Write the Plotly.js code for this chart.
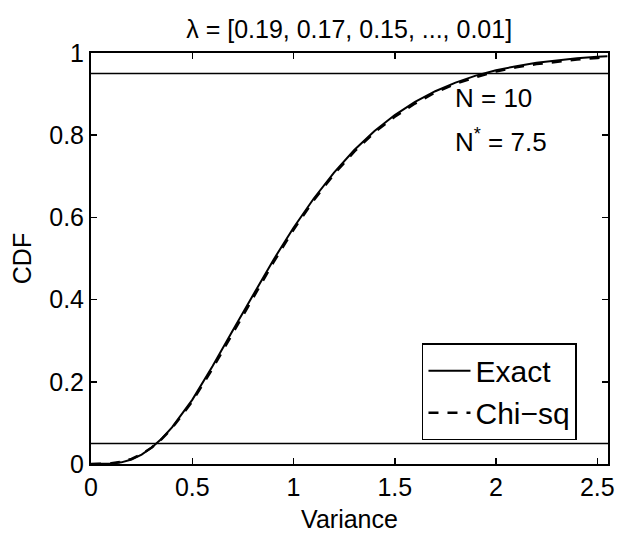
<!DOCTYPE html>
<html>
<head>
<meta charset="utf-8">
<script src="https://cdn.plot.ly/plotly-3.0.1.min.js"></script>
<style>html,body{margin:0;padding:0;background:#fff;}#chart{width:618px;height:535px;}</style>
</head>
<body>
<div id="chart"></div>
<script>
// Data
const variance = [0, 0.05, 0.1, 0.15, 0.2, 0.25, 0.3, 0.35, 0.4, 0.5, 0.6, 0.7, 0.8, 0.9, 1.0, 1.1, 1.2, 1.3, 1.4, 1.5, 1.6, 1.7, 1.8, 1.9, 2.0, 2.1, 2.2, 2.3, 2.4, 2.5, 2.55];
const cdfExact = [0, 0.0001, 0.001, 0.004, 0.011, 0.023, 0.040, 0.062, 0.089, 0.156, 0.238, 0.325, 0.412, 0.496, 0.575, 0.646, 0.709, 0.764, 0.810, 0.849, 0.881, 0.907, 0.928, 0.945, 0.958, 0.968, 0.976, 0.982, 0.987, 0.991, 0.992];
const cdfChiSq = [0, 0.0002, 0.0016, 0.0054, 0.0125, 0.024, 0.040, 0.061, 0.087, 0.152, 0.232, 0.318, 0.405, 0.490, 0.570, 0.642, 0.705, 0.760, 0.807, 0.845, 0.877, 0.904, 0.925, 0.941, 0.955, 0.965, 0.973, 0.979, 0.984, 0.988, 0.990];
const refLevels = [0.05, 0.95];
const seriesNames = ["Exact", "Chi\u2212sq"];
const xTicks = [0, 0.5, 1, 1.5, 2, 2.5];
const xTickText = ["0", "0.5", "1", "1.5", "2", "2.5"];
const yTicks = [0, 0.2, 0.4, 0.6, 0.8, 1];
const yTickText = ["0", "0.2", "0.4", "0.6", "0.8", "1"];
const titleText = "\u03bb = [0.19, 0.17, 0.15, ..., 0.01]";
const noteLines = ["N = 10", "N<sup>*</sup> = 7.5"];

const FONT = "Liberation Sans, Arial, Helvetica, sans-serif";

const traces = [
  {x: variance, y: cdfExact, name: seriesNames[0], type: "scatter", mode: "lines",
   line: {color: "#000", width: 2}},
  {x: variance, y: cdfChiSq, name: seriesNames[1], type: "scatter", mode: "lines",
   line: {color: "#000", width: 2.5, dash: "10px,9px"}}
];

const shapes = refLevels.map(v => ({
  type: "line", xref: "paper", x0: 0, x1: 1, yref: "y", y0: v, y1: v,
  line: {color: "#000", width: 1.5}
}));

const layout = {
  width: 618, height: 535,
  margin: {l: 91, r: 10, t: 53, b: 71},
  paper_bgcolor: "#fff", plot_bgcolor: "#fff",
  font: {family: FONT, color: "#000", size: 24},
  title: {text: titleText, font: {family: FONT, size: 25, color: "#000"},
          x: 0.565, xref: "container", xanchor: "center", y: 0.946, yref: "container", yanchor: "middle"},
  xaxis: {
    range: [0, 2.553], tickmode: "array", tickvals: xTicks, ticktext: xTickText,
    ticks: "inside", ticklen: 6, tickwidth: 1.5, tickcolor: "#000",
    showline: true, linecolor: "#000", linewidth: 2, mirror: "ticks",
    showgrid: false, zeroline: false,
    tickfont: {family: FONT, size: 25, color: "#000"},
    title: {text: "Variance", font: {family: FONT, size: 25, color: "#000"}, standoff: 10}
  },
  yaxis: {
    range: [0, 1], tickmode: "array", tickvals: yTicks, ticktext: yTickText,
    ticks: "inside", ticklen: 6, tickwidth: 1.5, tickcolor: "#000",
    showline: true, linecolor: "#000", linewidth: 2, mirror: "ticks",
    showgrid: false, zeroline: false,
    tickfont: {family: FONT, size: 25, color: "#000"},
    title: {text: "CDF", font: {family: FONT, size: 25, color: "#000"}, standoff: 10}
  },
  shapes: shapes,
  showlegend: true,
  legend: {
    x: 0.94, xanchor: "right", y: 0.058, yanchor: "bottom",
    bgcolor: "#fff", bordercolor: "#000", borderwidth: 1.5,
    font: {family: FONT, size: 30, color: "#000"},
    tracegroupgap: 0, itemwidth: 42
  },
  annotations: [
    {text: noteLines[0], xref: "x", yref: "y", x: 1.79, y: 0.89, xanchor: "left", yanchor: "middle",
     showarrow: false, font: {family: FONT, size: 26, color: "#000"}},
    {text: noteLines[1], xref: "x", yref: "y", x: 1.79, y: 0.787, xanchor: "left", yanchor: "middle",
     showarrow: false, font: {family: FONT, size: 26, color: "#000"}}
  ]
};

Plotly.newPlot("chart", traces, layout, {displayModeBar: false, staticPlot: true});
</script>
</body>
</html>
